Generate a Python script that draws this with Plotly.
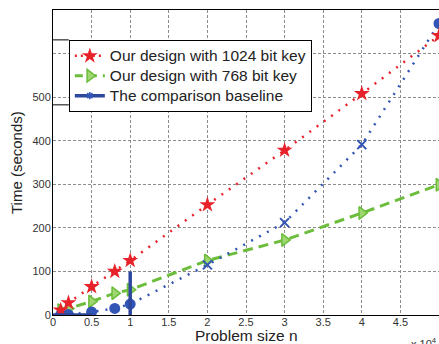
import plotly.graph_objects as go

# Problem size n (x 10^4)
problem_size = [0.1, 0.2, 0.5, 0.8, 1, 2, 3, 4, 5]
# Time (seconds)
time_1024 = [11, 28, 65, 100, 125, 253, 378, 508, 641]
time_768 = [11, 15, 31, 50, 58, 125, 172, 234, 299]
time_baseline = [1, 1, 7, 15, 25, 115, 212, 391, 669]
baseline_symbols = ["circle", "circle", "circle", "circle", "circle", "x-thin", "x-thin", "x-thin", "circle"]

# solid baseline segments
seg_x = [0, 0.5, None, 1, 1]
seg_y = [0, 0, None, 0, 100]

x_ticks = [0, 0.5, 1, 1.5, 2, 2.5, 3, 3.5, 4, 4.5, 5]
x_labels = ["0", "0.5", "1", "1.5", "2", "2.5", "3", "3.5", "4", "4.5", "5"]
y_ticks = [0, 100, 200, 300, 400, 500, 600, 700]
y_labels = ["0", "100", "200", "300", "400", "500", "", ""]

series_names = ["Our design with 1024 bit key", "Our design with 768 bit key", "The comparison baseline"]

RED = "#e8222a"
GREEN = "#6cbd3c"
GREEN_FILL = "#9ed672"
BLUE = "#2d479c"
BLUE_DOT = "#3355b5"


def big(name):
    return '<span style="font-size:15.5px">' + name + '</span>'


fig = go.Figure()

fig.add_trace(go.Scatter(
    x=problem_size, y=time_768, mode="lines+markers", showlegend=False,
    line=dict(color=GREEN, width=3, dash="10px,6px"),
    marker=dict(symbol="triangle-right", size=11, color=GREEN_FILL,
                line=dict(color=GREEN, width=1.5)),
))
fig.add_trace(go.Scatter(
    x=problem_size, y=time_baseline, mode="lines+markers", showlegend=False,
    line=dict(color=BLUE_DOT, width=2.5, dash="2px,7px"),
    marker=dict(symbol=baseline_symbols, size=9, color=BLUE_DOT,
                line=dict(color=BLUE_DOT, width=2)),
))
fig.add_trace(go.Scatter(
    x=problem_size, y=time_1024, mode="lines+markers", showlegend=False,
    line=dict(color=RED, width=2.5, dash="2px,7px"),
    marker=dict(symbol="star", size=12, color=RED, line=dict(width=0)),
))
fig.add_trace(go.Scatter(
    x=seg_x, y=seg_y, mode="lines", showlegend=False,
    line=dict(color=BLUE, width=3.5),
))

# legend entries
fig.add_trace(go.Scatter(
    x=[None], y=[None], mode="lines+markers", name=big(series_names[0]),
    line=dict(color=RED, width=2.5, dash="2px,4px"),
    marker=dict(symbol="star", size=12, color=RED),
))
fig.add_trace(go.Scatter(
    x=[None], y=[None], mode="lines+markers", name=big(series_names[1]),
    line=dict(color=GREEN, width=3, dash="8px,6px"),
    marker=dict(symbol="triangle-right", size=11, color=GREEN_FILL, line=dict(color=GREEN, width=1.5)),
))
fig.add_trace(go.Scatter(
    x=[None], y=[None], mode="lines+markers", name=big(series_names[2]),
    line=dict(color=BLUE, width=3.5),
    marker=dict(symbol="asterisk-open", size=6, color=BLUE_DOT, line=dict(color=BLUE_DOT, width=1.5)),
))

grid = dict(showgrid=True, gridcolor="#8c8c8c", griddash="3px,2px", gridwidth=1)

fig.update_layout(
    width=439, height=344,
    margin=dict(l=53, r=0, t=10, b=29, autoexpand=False),
    paper_bgcolor="white", plot_bgcolor="white",
    font=dict(family="Liberation Sans, Arial, sans-serif", color="#222"),
    xaxis=dict(range=[0, 5], tickvals=x_ticks, ticktext=x_labels, automargin=False,
               showline=True, linecolor="black", linewidth=1, mirror=True,
               ticks="", tickfont=dict(size=11, color="#333"), zeroline=False,
               ticklabelstandoff=-3,
               **grid),
    yaxis=dict(range=[0, 700], tickvals=y_ticks, ticktext=y_labels, automargin=False,
               showline=True, linecolor="black", linewidth=1, mirror=True,
               ticks="", tickfont=dict(size=11, color="#333"), zeroline=False,
               ticklabelstandoff=-1,
               **grid),
    legend=dict(x=0.041, y=0.902, xanchor="left", yanchor="top",
                bgcolor="white", bordercolor="black", borderwidth=1,
                font=dict(size=13, color="#222"), tracegroupgap=0,
                itemwidth=30),
    annotations=[
        dict(xref="paper", yref="paper", x=0.5, y=0, xanchor="center", yanchor="top",
             yshift=-10, text="Problem size n", showarrow=False,
             font=dict(size=15.5, color="#222")),
        dict(xref="paper", yref="paper", x=0, y=0.5, xanchor="right", yanchor="middle",
             xshift=-26, text="Time (seconds)", textangle=-90, showarrow=False,
             font=dict(size=15, color="#222")),
        dict(xref="paper", yref="paper", x=1, y=0, xanchor="right", yanchor="top",
             yshift=-19, text="x 10<sup>4</sup>", showarrow=False,
             font=dict(size=11, color="#333")),
    ],
    shapes=[
        dict(type="line", xref="paper", yref="paper", x0=0, x1=0.041, y0=0.902, y1=0.902,
             line=dict(color="black", width=1)),
        dict(type="line", xref="paper", yref="paper", x0=0, x1=0.041, y0=0.689, y1=0.689,
             line=dict(color="black", width=1)),
    ],
)

fig.write_html("out.html", config={"displayModeBar": False},
               post_script="document.body.style.margin='0';document.body.style.overflow='hidden';")
